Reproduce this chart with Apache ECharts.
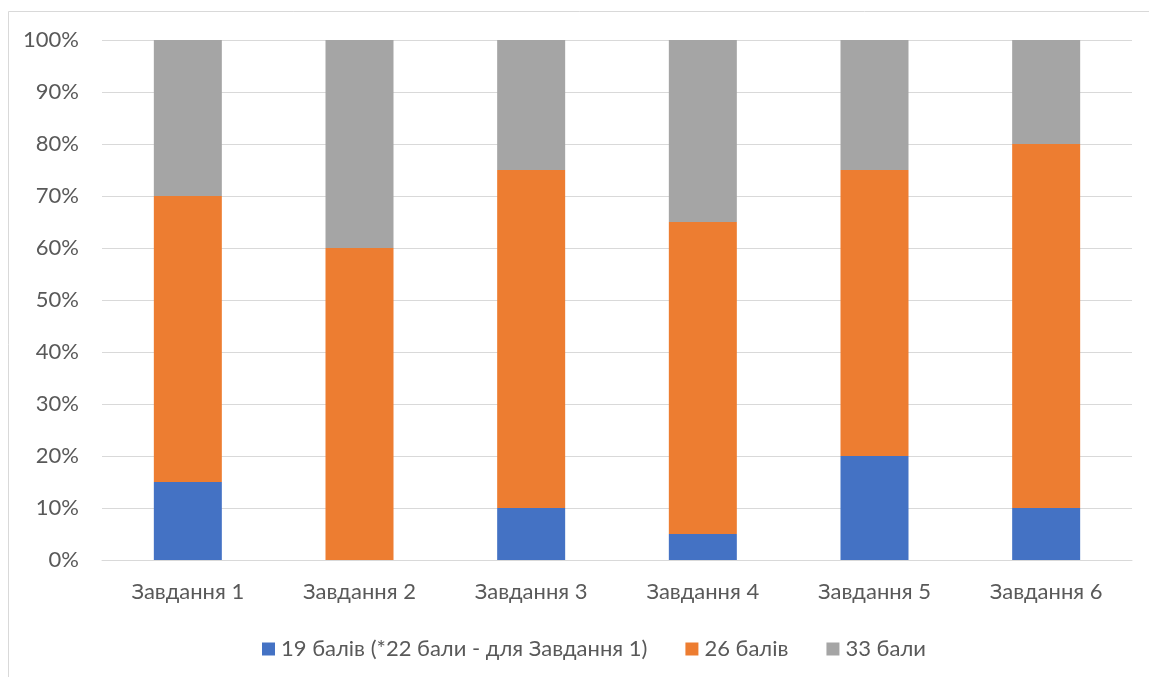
<!DOCTYPE html>
<html>
<head>
<meta charset="utf-8">
<style>
  html, body { margin: 0; padding: 0; background: #ffffff; }
  #chart { width: 1149px; height: 677px; }
</style>
<script src="https://cdn.jsdelivr.net/npm/echarts@6/dist/echarts.min.js"></script>
</head>
<body>
<div id="chart"></div>
<script>
// Task categories along the x axis
const categories = ['Завдання 1', 'Завдання 2', 'Завдання 3', 'Завдання 4', 'Завдання 5', 'Завдання 6'];

// Share of students per score level, in percent (stacked to 100%)
const score19 = [15, 0, 10, 5, 20, 10];
const score26 = [55, 60, 65, 60, 55, 70];
const score33 = [30, 40, 25, 35, 25, 20];

const seriesNames = ['19 балів (*22 бали - для Завдання 1)', '26 балів', '33 бали'];
const seriesColors = ['#4472C4', '#ED7D31', '#A5A5A5'];

const fontFamily = 'Lato, "Liberation Sans", sans-serif';
const textColor = '#595959';
const gridColor = '#D9D9D9';

const chart = echarts.init(document.getElementById('chart'), null, { renderer: 'canvas' });

const values = [score19, score26, score33];

chart.setOption({
  animation: false,
  backgroundColor: '#ffffff',
  textStyle: { fontFamily: fontFamily },
  graphic: [{
    type: 'rect',
    shape: { x: 8.5, y: 11.5, width: 1200, height: 700 },
    style: { fill: 'none', stroke: gridColor, lineWidth: 1 },
    silent: true
  }],
  grid: { left: 102, right: 17, top: 40, bottom: 117, containLabel: false },
  legend: {
    left: 257,
    top: 633,
    itemWidth: 13,
    itemHeight: 13,
    itemGap: 38,
    icon: 'rect',
    textStyle: { color: textColor, fontSize: 22, fontFamily: fontFamily, padding: [0, 0, 0, 1] },
    data: seriesNames
  },
  xAxis: {
    type: 'category',
    data: categories,
    axisLine: { show: true, lineStyle: { color: gridColor } },
    axisTick: { show: false },
    axisLabel: { color: textColor, fontSize: 22, fontFamily: fontFamily, margin: 21 }
  },
  yAxis: {
    type: 'value',
    min: 0,
    max: 100,
    interval: 10,
    axisLine: { show: false },
    axisTick: { show: false },
    splitLine: { lineStyle: { color: gridColor, width: 1 } },
    axisLabel: {
      color: textColor, fontSize: 22, fontFamily: fontFamily, margin: 23,
      formatter: function (v) { return v + '%'; }
    }
  },
  series: values.map(function (arr, i) {
    return {
      name: seriesNames[i],
      type: 'bar',
      stack: 'total',
      barWidth: 68,
      data: arr,
      itemStyle: { color: seriesColors[i] }
    };
  })
});
</script>
</body>
</html>
